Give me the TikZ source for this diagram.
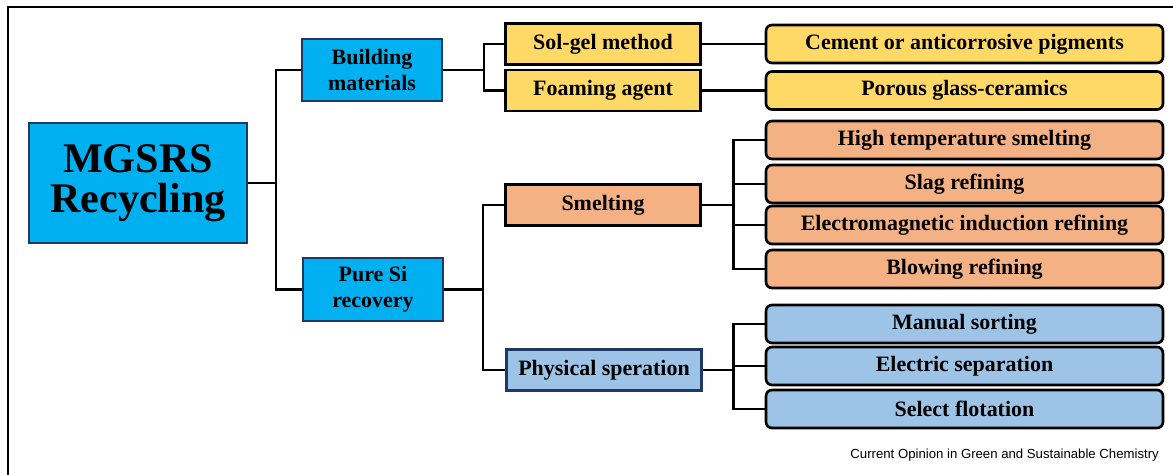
\documentclass[tikz,border=0pt]{standalone}
\usepackage{fontspec}
\setmainfont{Liberation Serif}
\newfontfamily\creditfont{Liberation Sans}
\definecolor{cyanfill}{HTML}{00B0F0}
\definecolor{navyline}{HTML}{1F3864}
\definecolor{yellowfill}{HTML}{FFD966}
\definecolor{orangefill}{HTML}{F4B183}
\definecolor{bluefill}{HTML}{9DC3E6}

\begin{document}
\begin{tikzpicture}[
        x = 0.02cm, y = -0.02cm,
        boxy/.style  = {draw, line width = 1.2pt, inner sep = 0pt, align = center,
                        font = \fontsize{12.5}{14.6}\selectfont\bfseries},
        rooty/.style = {boxy, fill = cyanfill, draw = navyline, minimum width = 4.36cm,
                        minimum height = 2.4cm, font = \fontsize{24}{22.5}\selectfont\bfseries},
        topy/.style  = {boxy, fill = cyanfill, draw = navyline, minimum width = 2.8cm, minimum height = 1.25cm},
        midy/.style  = {boxy, minimum width = 3.9cm, minimum height = 0.82cm},
        leafy/.style = {boxy, line width = 1.5pt, rounded corners = 1.2mm, minimum width = 7.94cm,
                        minimum height = 0.76cm},
        branchy/.style = {line width = 1.3pt}
      ]
      \useasboundingbox (0, 0) rectangle (1173, 475);
      % frame
      \draw[line width = 0.8pt] (8, 475) -- (8, 7) -- (1173, 7);
      % nodes
      \node[rooty] (root)   at (138, 183)   {MGSRS\\Recycling};
      \node[topy]  (build)  at (372, 70)    {Building\\materials};
      \node[topy]  (puresi) at (373, 289.5) {Pure Si\\recovery};
      \node[midy, fill = yellowfill] (solgel) at (603, 44)   {Sol-gel method};
      \node[midy, fill = yellowfill] (foam)   at (603, 90.5) {Foaming agent};
      \node[midy, fill = orangefill] (smelt)  at (603, 205)  {Smelting};
      \node[midy, fill = bluefill, draw = navyline] (phys) at (604, 370) {Physical speration};
      \node[leafy, fill = yellowfill] (cement) at (964.5, 44)   {Cement or anticorrosive pigments};
      \node[leafy, fill = yellowfill] (porous) at (964.5, 90.5) {Porous glass-ceramics};
      \node[leafy, fill = orangefill] (hts)    at (964.5, 140)  {High temperature smelting};
      \node[leafy, fill = orangefill] (slag)   at (964.5, 184)  {Slag refining};
      \node[leafy, fill = orangefill] (emi)    at (964.5, 225)  {Electromagnetic induction refining};
      \node[leafy, fill = orangefill] (blow)   at (964.5, 269)  {Blowing refining};
      \node[leafy, fill = bluefill]   (manual) at (964.5, 324)  {Manual sorting};
      \node[leafy, fill = bluefill]   (elec)   at (964.5, 366)  {Electric separation};
      \node[leafy, fill = bluefill]   (select) at (964.5, 409)  {Select flotation};
      \node[anchor = base east, font = \creditfont\fontsize{7.5}{9}\selectfont] (credit)
        at (1165, 459) {Current Opinion in Green and Sustainable Chemistry};
      % first level
      \draw[branchy] (root.east) -- +(28, 0) |- (build.west);
      \draw[branchy] (root.east) -- +(28, 0) |- (puresi.west);
      % building materials
      \draw[branchy] (build.east) -- +(41, 0) |- (solgel.west);
      \draw[branchy] (build.east) -- +(41, 0) |- (foam.west);
      \draw[branchy] (solgel.east) -- (cement.west);
      \draw[branchy] (foam.east)   -- (porous.west);
      % pure Si recovery
      \draw[branchy] (puresi.east) -- +(39, 0) |- (smelt.west);
      \draw[branchy] (puresi.east) -- +(39, 0) |- (phys.west);
      \foreach \leaf in {hts, slag, emi, blow}
        \draw[branchy] (smelt.east) -- +(32, 0) |- (\leaf.west);
      \foreach \leaf in {manual, elec, select}
        \draw[branchy] (phys.east) -- +(31, 0) |- (\leaf.west);
    \end{tikzpicture}
\end{document}
